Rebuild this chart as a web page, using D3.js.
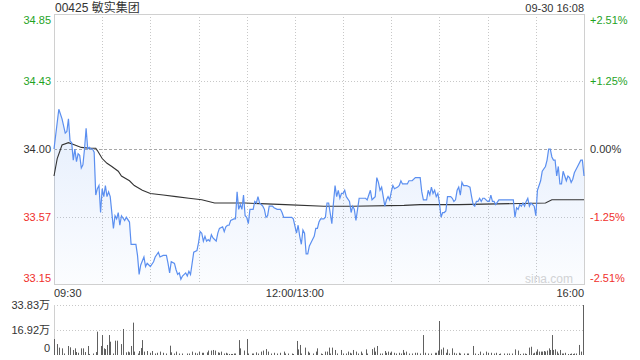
<!DOCTYPE html>
<html>
<head>
<meta charset="utf-8">
<script src="https://cdn.jsdelivr.net/npm/d3@7"></script>
<style>
  body { margin: 0; background: #fff; }
  svg { display: block; }
  text { font-family: "Liberation Sans", Arial, "Noto Sans CJK SC", sans-serif; font-size: 11px; }
</style>
</head>
<body>
<svg id="chart"></svg>
<script>
// labels
var title = "00425 敏实集团";
var stamp = "09-30 16:08";
var priceTicks = [34.85, 34.43, 34.00, 33.57, 33.15];
var pctTicks = ["+2.51%", "+1.25%", "0.00%", "-1.25%", "-2.51%"];
var volTicks = [33.83, 16.92, 0];
var volTickLabels = ["33.83万", "16.92万", "0"];
var timeLabels = [[0, "09:30"], [150, "12:00/13:00"], [330, "16:00"]];
var prevClose = 34.00;

// [minute since 09:30 (lunch removed), price]
var pricePts = [[0,34.00],[3,34.25],[5,34.19],[7,34.10],[8,34.11],[9,34.19],[10,34.05],[11,34.04],[12,33.93],[13,34.00],
[14,33.92],[15,33.97],[16,33.96],[17,33.88],[18,33.90],[19,34.00],[20,34.13],[21,34.00],[22,34.01],[23,34.00],[24,34.00],
[25,33.98],[26,33.71],[27,33.75],[28,33.77],[29,33.60],[30,33.75],[31,33.70],[32,33.77],[33,33.70],[34,33.73],[35,33.70],
[37,33.50],[38,33.58],[39,33.56],[40,33.60],[41,33.52],[42,33.58],[44,33.55],[45,33.57],[47,33.54],[48,33.40],[51,33.40],
[52,33.33],[53,33.21],[54,33.27],[56,33.32],[57,33.26],[58,33.28],[60,33.26],[62,33.29],[63,33.32],[65,33.35],[66,33.32],
[68,33.33],[70,33.33],[71,33.28],[72,33.22],[73,33.29],[75,33.28],[76,33.24],[77,33.21],[78,33.22],[79,33.18],[80,33.20],
[82,33.22],[83,33.20],[84,33.23],[85,33.21],[86,33.28],[87,33.35],[89,33.36],[90,33.41],[91,33.48],[92,33.47],[93,33.42],
[94,33.45],[95,33.42],[96,33.43],[97,33.42],[98,33.46],[99,33.44],[100,33.43],[101,33.42],[102,33.47],[103,33.50],[105,33.51],
[106,33.48],[107,33.51],[108,33.52],[109,33.52],[110,33.55],[112,33.56],[113,33.56],[114,33.73],[115,33.62],[116,33.65],
[117,33.62],[118,33.71],[119,33.58],[120,33.57],[121,33.53],[122,33.62],[123,33.62],[124,33.62],[125,33.67],[126,33.66],
[127,33.70],[128,33.66],[130,33.64],[131,33.62],[132,33.57],[133,33.58],[134,33.64],[136,33.64],[137,33.63],[139,33.62],
[141,33.62],[142,33.60],[143,33.57],[146,33.57],[148,33.57],[149,33.56],[151,33.47],[152,33.52],[153,33.45],[154,33.40],
[155,33.49],[156,33.47],[157,33.34],[158,33.34],[159,33.39],[160,33.41],[161,33.43],[162,33.45],[163,33.50],[164,33.50],
[165,33.54],[166,33.56],[168,33.56],[169,33.57],[170,33.66],[171,33.66],[173,33.53],[174,33.66],[175,33.77],[176,33.70],
[177,33.74],[178,33.69],[179,33.72],[180,33.72],[181,33.74],[182,33.70],[184,33.67],[185,33.60],[186,33.64],[187,33.62],
[188,33.55],[189,33.62],[190,33.69],[193,33.69],[194,33.69],[195,33.68],[196,33.71],[197,33.74],[198,33.68],[199,33.69],
[200,33.70],[201,33.82],[202,33.79],[203,33.74],[204,33.76],[205,33.70],[206,33.64],[207,33.68],[208,33.70],[209,33.68],
[210,33.73],[211,33.77],[212,33.75],[214,33.76],[215,33.77],[216,33.80],[217,33.78],[218,33.78],[220,33.78],[221,33.80],
[223,33.80],[225,33.82],[228,33.82],[229,33.73],[230,33.68],[232,33.68],[233,33.74],[234,33.71],[235,33.76],[236,33.72],
[237,33.74],[238,33.70],[239,33.72],[240,33.66],[241,33.57],[242,33.60],[243,33.60],[244,33.61],[245,33.70],[247,33.70],
[248,33.69],[249,33.67],[250,33.68],[251,33.74],[252,33.76],[253,33.71],[254,33.79],[255,33.77],[257,33.77],[259,33.76],
[260,33.70],[261,33.65],[262,33.64],[263,33.67],[264,33.67],[265,33.69],[266,33.67],[267,33.69],[268,33.69],[270,33.67],
[271,33.67],[272,33.71],[273,33.67],[274,33.67],[275,33.65],[277,33.68],[286,33.68],[287,33.57],[288,33.63],[289,33.62],
[290,33.65],[291,33.64],[292,33.66],[293,33.64],[294,33.67],[295,33.69],[296,33.64],[297,33.66],[298,33.65],[299,33.64],
[300,33.58],[301,33.74],[303,33.80],[304,33.86],[306,33.89],[307,33.93],[308,34.00],[309,34.00],[310,33.95],[311,33.93],
[312,33.93],[313,33.83],[314,33.89],[315,33.78],[316,33.78],[317,33.86],[318,33.83],[319,33.80],[320,33.83],[321,33.82],
[322,33.79],[323,33.81],[324,33.85],[326,33.89],[328,33.93],[329,33.93],[330,33.83]];

// average price line
var avgPts = [[0,33.83],[2,33.94],[5,34.025],[9,34.04],[13,34.025],[17,34.01],[22,34.005],[26,34.005],[27,33.99],[30,33.94],
[33,33.91],[36,33.89],[40,33.86],[42,33.83],[47,33.80],[50,33.77],[55,33.74],[60,33.72],[68,33.71],[76,33.70],[84,33.69],
[92,33.68],[100,33.66],[119,33.66],[144,33.65],[168,33.64],[186,33.64],[218,33.645],[228,33.65],[252,33.65],[306,33.66],
[310,33.68],[330,33.68]];

// [minute, volume in 万 shares]
var volPts = [[0,10.8],[2,7.4],[3,5.0],[5,4.5],[6,1.0],[9,6.1],[10,5.2],[12,3.4],[13,4.5],[14,2.0],[15,1.5],[17,4.5],[18,4.5],
[19,2.0],[21,6.1],[22,0.7],[24,1.0],[26,2.0],[27,15.8],[29,6.1],[30,13.5],[31,4.5],[32,4.0],[33,6.8],[34,13.5],[35,9.0],
[37,1.0],[38,9.7],[39,9.7],[42,7.4],[43,17.6],[45,1.8],[46,2.3],[47,1.8],[48,6.1],[49,21.9],[50,2.3],[52,1.0],[53,2.7],
[54,4.7],[55,10.1],[56,2.3],[58,2.7],[60,1.5],[61,2.7],[63,1.0],[64,1.5],[66,2.3],[68,1.5],[70,1.0],[72,6.3],[73,1.8],
[75,1.0],[76,2.3],[78,1.0],[80,1.0],[83,1.0],[84,1.0],[86,2.3],[88,1.5],[89,1.0],[90,2.3],[92,1.5],[93,1.5],[95,1.8],
[96,3.0],[98,3.0],[99,3.4],[100,3.0],[102,1.8],[103,1.5],[104,2.3],[106,1.0],[107,1.5],[108,1.0],[109,0.7],[110,0.7],
[111,0.7],[112,1.0],[113,1.0],[115,10.1],[116,4.5],[118,3.0],[120,10.8],[121,1.0],[123,1.0],[124,1.0],[126,1.8],[127,1.0],
[129,2.3],[130,3.0],[132,4.0],[133,2.3],[135,1.0],[137,1.5],[139,1.0],[141,1.5],[143,2.3],[144,1.0],[146,1.0],[148,1.0],
[149,0.7],[151,9.5],[152,3.8],[153,6.8],[154,1.0],[156,5.0],[158,2.3],[159,1.5],[161,1.0],[163,2.3],[164,4.5],[166,1.0],
[167,0.7],[169,2.3],[170,2.3],[171,5.0],[172,1.0],[173,5.0],[175,3.4],[176,1.0],[179,3.4],[180,1.0],[182,1.0],[183,2.3],
[184,1.5],[185,1.0],[186,3.4],[188,2.3],[189,1.0],[191,2.3],[192,1.0],[194,3.8],[195,1.0],[198,4.0],[199,5.0],[200,2.3],
[201,6.1],[203,1.0],[204,1.0],[206,2.7],[207,1.5],[208,2.3],[209,1.5],[210,2.3],[212,1.5],[213,1.0],[215,1.5],[216,1.0],
[217,3.4],[218,1.5],[219,2.3],[221,1.0],[223,1.0],[225,1.5],[226,1.5],[228,1.0],[230,13.5],[231,1.5],[233,1.0],[235,1.0],
[237,1.5],[238,1.5],[239,3.0],[240,23.0],[241,3.8],[242,5.0],[244,1.5],[245,3.8],[246,1.0],[248,4.5],[249,1.5],[250,1.0],
[252,1.5],[253,1.0],[255,1.0],[257,1.0],[258,1.0],[261,6.1],[262,1.0],[264,0.7],[265,2.3],[267,1.0],[269,2.3],[270,1.5],
[272,1.5],[274,1.0],[275,1.5],[277,0.7],[278,1.0],[280,1.0],[282,1.0],[283,1.0],[285,1.0],[287,3.8],[289,3.0],[290,0.7],
[292,1.0],[293,1.0],[294,0.7],[296,5.0],[297,5.6],[298,1.0],[299,1.5],[300,2.3],[301,3.8],[302,2.3],[303,2.3],[304,2.3],
[305,2.7],[306,2.3],[307,3.0],[308,4.5],[309,3.4],[310,13.5],[311,3.4],[312,3.8],[313,2.3],[314,1.0],[315,3.4],[316,1.0],
[317,1.0],[318,1.5],[320,0.7],[321,0.7],[322,1.0],[323,0.7],[324,1.0],[325,1.0],[327,6.8],[328,2.3],[330,33.83]];

var screen = {width: 640, height: 360};
var plot = {left: 54, right: 584, top: 14, bottom: 284};
var vol = {top: 305, bottom: 355};

var svg = d3.select("#chart")
    .attr("width", screen.width)
    .attr("height", screen.height);

var xScale = d3.scaleLinear().domain([0, 330]).range([plot.left, plot.right]);
var yScale = d3.scaleLinear().domain([33.15, 34.85]).range([plot.bottom, plot.top]);
var vScale = d3.scaleLinear().domain([0, 33.83]).range([vol.bottom, vol.top]);

var tickColor = function(p) {
    if (p > prevClose) return "#1fa31f";
    if (p < prevClose) return "#f0302c";
    return "#333";
};

// gradient under the price line
var grad = svg.append("defs").append("linearGradient")
    .attr("id", "fillGrad")
    .attr("gradientUnits", "userSpaceOnUse")
    .attr("x1", 0).attr("y1", plot.top).attr("x2", 0).attr("y2", plot.bottom);
grad.append("stop").attr("offset", "0").attr("stop-color", "#4d8bef").attr("stop-opacity", 0.22);
grad.append("stop").attr("offset", "1").attr("stop-color", "#4d8bef").attr("stop-opacity", 0.02);

// grid
var grid = svg.append("g");
d3.range(30, 330, 30).forEach(function(m) {
    var x = Math.round(xScale(m)) + 0.5;
    grid.append("line")
        .attr("x1", x).attr("x2", x)
        .attr("y1", plot.top).attr("y2", plot.bottom)
        .attr("stroke", "#c8c8c8").attr("stroke-dasharray", "1,2");
});
[34.43, 34.00, 33.57].forEach(function(p) {
    var y = Math.round(yScale(p)) + 0.5;
    grid.append("line")
        .attr("x1", plot.left).attr("x2", plot.right)
        .attr("y1", y).attr("y2", y)
        .attr("stroke", p === prevClose ? "#a8a8a8" : "#c8c8c8")
        .attr("stroke-dasharray", p === prevClose ? "3,2" : "1,2");
});
[vol.top, (vol.top + vol.bottom) / 2].forEach(function(y) {
    grid.append("line")
        .attr("x1", plot.left).attr("x2", plot.right)
        .attr("y1", Math.round(y) + 0.5).attr("y2", Math.round(y) + 0.5)
        .attr("stroke", "#c8c8c8").attr("stroke-dasharray", "1,2");
});

// frame
svg.append("rect")
    .attr("x", plot.left + 0.5).attr("y", plot.top + 0.5)
    .attr("width", plot.right - plot.left).attr("height", plot.bottom - plot.top)
    .attr("fill", "none").attr("stroke", "#d0d0d0");
svg.append("line")
    .attr("x1", plot.left + 0.5).attr("x2", plot.left + 0.5)
    .attr("y1", vol.top).attr("y2", vol.bottom)
    .attr("stroke", "#d0d0d0");

// watermark
svg.append("text")
    .attr("x", 573).attr("y", 283)
    .attr("text-anchor", "end")
    .attr("fill", "#d4d4d4")
    .style("font-size", "12px")
    .text("sina.com");

// area + lines
var area = d3.area()
    .x(function(d) { return xScale(d[0]); })
    .y0(plot.bottom)
    .y1(function(d) { return yScale(d[1]); });
svg.append("path").datum(pricePts)
    .attr("d", area)
    .attr("fill", "url(#fillGrad)");

var line = d3.line()
    .x(function(d) { return xScale(d[0]); })
    .y(function(d) { return yScale(d[1]); });
svg.append("path").datum(avgPts)
    .attr("d", line)
    .attr("fill", "none").attr("stroke", "#333").attr("stroke-width", 1.1);
svg.append("path").datum(pricePts)
    .attr("d", line)
    .attr("fill", "none").attr("stroke", "#5b8ff0").attr("stroke-width", 1.2);

// volume bars
svg.append("g").selectAll("rect")
    .data(volPts)
    .enter()
    .append("rect")
    .attr("x", function(d) { return Math.min(Math.round(xScale(d[0])), plot.right - 1); })
    .attr("y", function(d) { return vScale(d[1]); })
    .attr("width", 1)
    .attr("height", function(d) { return vol.bottom - vScale(d[1]); })
    .attr("fill", "#606060");

// labels
var labels = svg.append("g");
labels.append("text").attr("x", 55).attr("y", 12).attr("fill", "#333")
    .style("font-size", "12px").text(title);
labels.append("text").attr("x", 584).attr("y", 12).attr("text-anchor", "end")
    .attr("fill", "#333").text(stamp);

priceTicks.forEach(function(p, i) {
    var y = yScale(p);
    if (i === 0) y += 6;
    if (i === priceTicks.length - 1) y -= 6;
    labels.append("text")
        .attr("x", 51).attr("y", y).attr("dy", "0.35em")
        .attr("text-anchor", "end")
        .attr("fill", tickColor(p))
        .text(p.toFixed(2));
    labels.append("text")
        .attr("x", 590).attr("y", y).attr("dy", "0.35em")
        .attr("fill", tickColor(p))
        .text(pctTicks[i]);
});

timeLabels.forEach(function(t, i) {
    labels.append("text")
        .attr("x", xScale(t[0])).attr("y", 297)
        .attr("text-anchor", i === 0 ? "start" : (i === 1 ? "middle" : "end"))
        .attr("fill", "#333")
        .text(t[1]);
});

volTicks.forEach(function(v, i) {
    var y = vScale(v);
    if (i === volTicks.length - 1) y -= 7;
    labels.append("text")
        .attr("x", 50).attr("y", y).attr("dy", "0.35em")
        .attr("text-anchor", "end")
        .attr("fill", "#333")
        .text(volTickLabels[i]);
});
</script>
</body>
</html>
